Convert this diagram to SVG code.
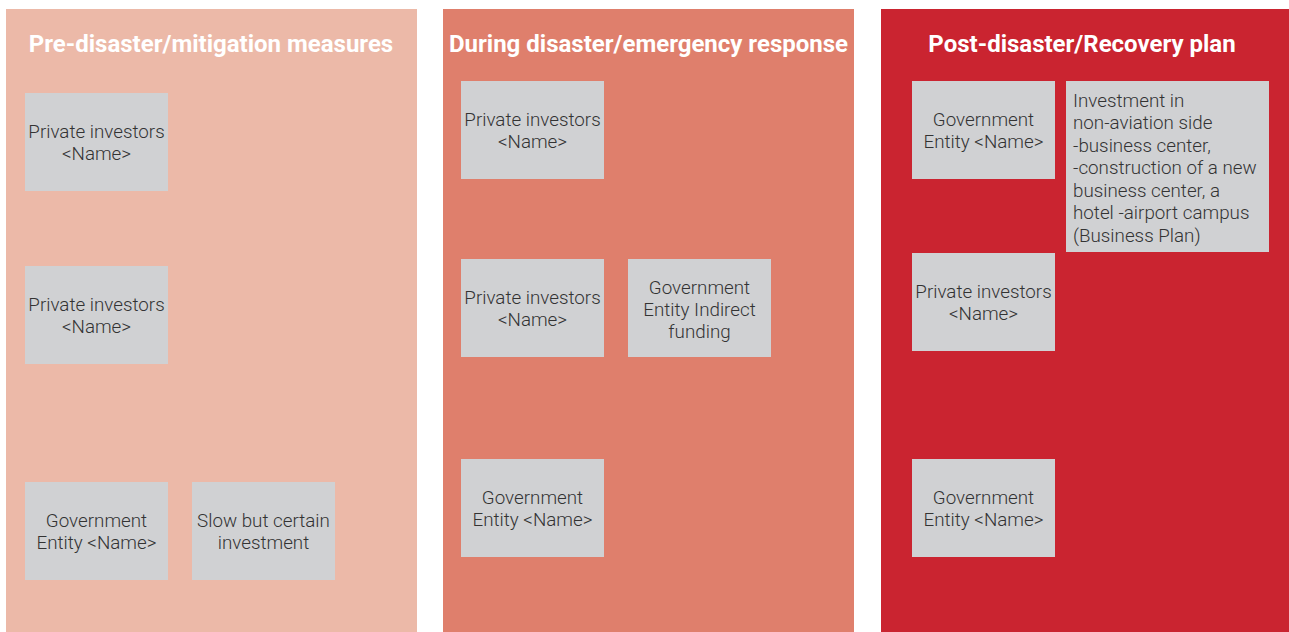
<svg xmlns="http://www.w3.org/2000/svg" width="1289" height="632" viewBox="0 0 1289 632">
<style>
.title{font-family:Roboto,"Liberation Sans",sans-serif;font-weight:bold;font-size:24px;fill:#ffffff;text-anchor:middle}
.box{fill:#d0d1d3}
.t{font-family:Roboto,"Liberation Sans",sans-serif;font-weight:300;font-size:18.8px;fill:#333333;text-anchor:middle}
.tl{font-family:Roboto,"Liberation Sans",sans-serif;font-weight:300;font-size:18.8px;fill:#333333}
</style>
<rect width="1289" height="632" fill="#ffffff"/>
<g id="panel-pre">
<rect x="6" y="9" width="411" height="623" fill="#ecb9a8"/>
<text class="title" x="211" y="51.5">Pre-disaster/mitigation measures</text>
</g>
<g id="panel-during">
<rect x="443" y="9" width="411" height="623" fill="#df7f6c"/>
<text class="title" x="648.5" y="51.5">During disaster/emergency response</text>
</g>
<g id="panel-post">
<rect x="881" y="9" width="408" height="623" fill="#ca2430"/>
<text class="title" x="1082" y="51.5">Post-disaster/Recovery plan</text>
</g>
<g id="pre-private-1">
<rect class="box" x="25" y="93" width="143" height="98"/>
<text class="t" x="96.5" y="137.5">Private investors<tspan x="96.5" dy="22">&lt;Name&gt;</tspan></text>
</g>
<g id="pre-private-2">
<rect class="box" x="25" y="266" width="143" height="98"/>
<text class="t" x="96.5" y="310.5">Private investors<tspan x="96.5" dy="22">&lt;Name&gt;</tspan></text>
</g>
<g id="pre-government">
<rect class="box" x="25" y="482" width="143" height="98"/>
<text class="t" x="96.5" y="526.5">Government<tspan x="96.5" dy="22">Entity &lt;Name&gt;</tspan></text>
</g>
<g id="pre-slow">
<rect class="box" x="192" y="482" width="143" height="98"/>
<text class="t" x="263.5" y="526.5">Slow but certain<tspan x="263.5" dy="22">investment</tspan></text>
</g>
<g id="during-private-1">
<rect class="box" x="461" y="81" width="143" height="98"/>
<text class="t" x="532.5" y="125.5">Private investors<tspan x="532.5" dy="22">&lt;Name&gt;</tspan></text>
</g>
<g id="during-private-2">
<rect class="box" x="461" y="259" width="143" height="98"/>
<text class="t" x="532.5" y="303.5">Private investors<tspan x="532.5" dy="22">&lt;Name&gt;</tspan></text>
</g>
<g id="during-indirect">
<rect class="box" x="628" y="259" width="143" height="98"/>
<text class="t" x="699.5" y="293.5">Government<tspan x="699.5" dy="22">Entity Indirect</tspan><tspan x="699.5" dy="22">funding</tspan></text>
</g>
<g id="during-government">
<rect class="box" x="461" y="459" width="143" height="98"/>
<text class="t" x="532.5" y="503.5">Government<tspan x="532.5" dy="22">Entity &lt;Name&gt;</tspan></text>
</g>
<g id="post-government-1">
<rect class="box" x="912" y="81" width="143" height="98"/>
<text class="t" x="983.5" y="125.5">Government<tspan x="983.5" dy="22">Entity &lt;Name&gt;</tspan></text>
</g>
<g id="post-investment">
<rect class="box" x="1066" y="81" width="203" height="171"/>
<text class="tl" x="1073" y="106.5">Investment in<tspan x="1073" dy="22.5">non-aviation side</tspan><tspan x="1073" dy="22.5">-business center,</tspan><tspan x="1073" dy="22.5">-construction of a new</tspan><tspan x="1073" dy="22.5">business center, a</tspan><tspan x="1073" dy="22.5">hotel -airport campus</tspan><tspan x="1073" dy="22.5">(Business Plan)</tspan></text>
</g>
<g id="post-private">
<rect class="box" x="912" y="253" width="143" height="98"/>
<text class="t" x="983.5" y="297.5">Private investors<tspan x="983.5" dy="22">&lt;Name&gt;</tspan></text>
</g>
<g id="post-government-2">
<rect class="box" x="912" y="459" width="143" height="98"/>
<text class="t" x="983.5" y="503.5">Government<tspan x="983.5" dy="22">Entity &lt;Name&gt;</tspan></text>
</g>
<g id="connectors"></g>
</svg>
